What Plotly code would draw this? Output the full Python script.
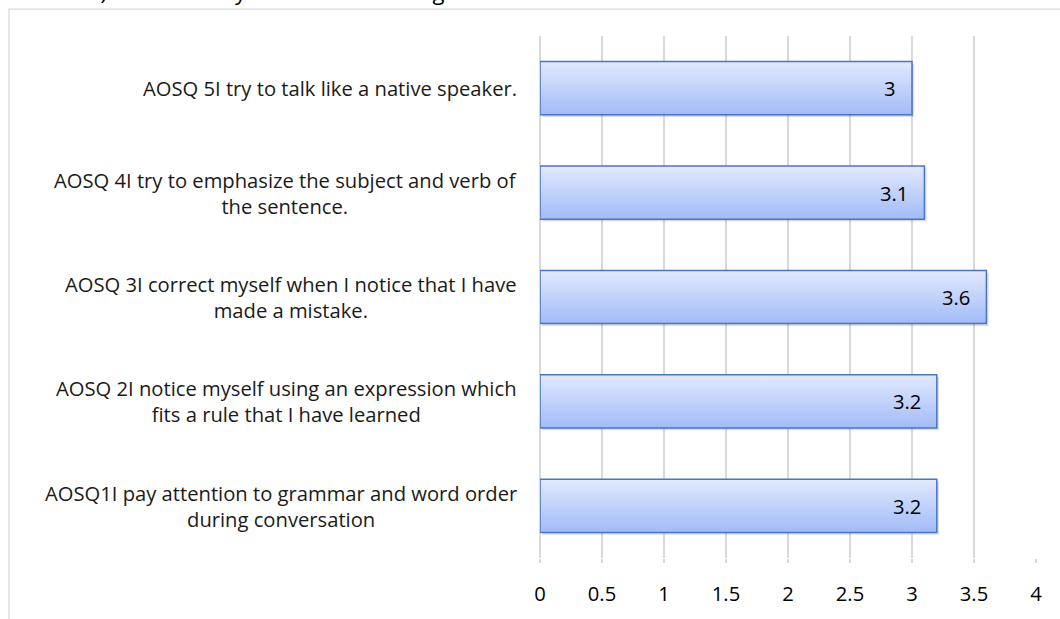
import plotly.graph_objects as go

# Survey items (bottom to top) and their mean scores
items = [
    "AOSQ1I pay attention to grammar and word order<br>during conversation",
    "AOSQ 2I notice myself using an expression which<br>fits a rule that I have learned",
    "AOSQ 3I correct myself when I notice that I have<br>made a mistake.",
    "AOSQ 4I try to emphasize the subject and verb of<br>the sentence.",
    "AOSQ 5I try to talk like a native speaker.",
]
scores = [3.2, 3.2, 3.6, 3.1, 3.0]
x_ticks = [0, 0.5, 1, 1.5, 2, 2.5, 3, 3.5, 4]
x_tick_text = ["0", "0.5", "1", "1.5", "2", "2.5", "3", "3.5", "4"]
title_text = "b) The accuracy of the used strategies"

FONT = "Open Sans"
FS = 20.2
HALF = 0.255          # half bar thickness in category units
SHADOW_DX, SHADOW_DY = 0.018, 0.022

fig = go.Figure()

for i, v in enumerate(scores):
    xs = [0, v, v, 0, 0]
    ys = [i - HALF, i - HALF, i + HALF, i + HALF, i - HALF]
    # soft drop shadow
    fig.add_trace(go.Scatter(
        x=[x + SHADOW_DX for x in xs], y=[y - SHADOW_DY for y in ys],
        mode="lines", fill="toself", fillcolor="rgba(0,0,0,0.13)",
        line=dict(width=0), hoverinfo="skip", showlegend=False,
    ))
    # gradient-filled bar
    fig.add_trace(go.Scatter(
        x=xs, y=ys, mode="lines", fill="toself",
        fillgradient=dict(type="vertical",
                          colorscale=[[0, "#a2bbf8"], [1, "#e1e9fd"]]),
        line=dict(color="#4a74c6", width=1.5),
        hoverinfo="skip", showlegend=False,
    ))

annotations = []
for i, (label, v) in enumerate(zip(items, scores)):
    annotations.append(dict(
        x=-21 / 496, xref="paper", y=i, yref="y",
        text=label, showarrow=False, xanchor="right", align="center",
        font=dict(family=FONT, size=FS, color="#1a1a1a"),
    ))
    annotations.append(dict(
        x=v, xref="x", y=i, yref="y", xshift=-14,
        text=f"{v:g}", showarrow=False, xanchor="right",
        font=dict(family=FONT, size=FS, color="#000000"),
    ))

annotations.append(dict(
    x=(85 - 540) / 496, xref="paper", y=1 + (36 - 8) / 524, yref="paper",
    text=title_text, showarrow=False, xanchor="left", yanchor="bottom",
    font=dict(family=FONT, size=22, color="#000000"),
))

fig.update_layout(
    width=1060, height=619,
    margin=dict(l=540, r=24, t=36, b=59),
    paper_bgcolor="white", plot_bgcolor="white",
    showlegend=False,
    annotations=annotations,
    shapes=[dict(
        type="rect", xref="paper", yref="paper",
        x0=(9 - 540) / 496, x1=1.2, y0=-0.3, y1=1 + (36 - 9) / 524,
        line=dict(color="#d9d9d9", width=1.2), fillcolor="rgba(0,0,0,0)",
        layer="below",
    )],
    xaxis=dict(
        range=[0, 4], tickvals=x_ticks, ticktext=x_tick_text,
        showgrid=True, gridcolor="#d9d9d9", gridwidth=1.5,
        zeroline=True, zerolinecolor="#d9d9d9", zerolinewidth=1.5,
        showline=False,
        ticks="outside", ticklen=4, tickcolor="#d9d9d9", tickwidth=1.5,
        ticklabelstandoff=14,
        tickfont=dict(family=FONT, size=FS, color="#000000"),
        fixedrange=True,
    ),
    yaxis=dict(
        range=[-0.5, 4.5], showticklabels=False, showgrid=False,
        zeroline=False, showline=False, ticks="", fixedrange=True,
    ),
)

fig.write_html("out.html")
